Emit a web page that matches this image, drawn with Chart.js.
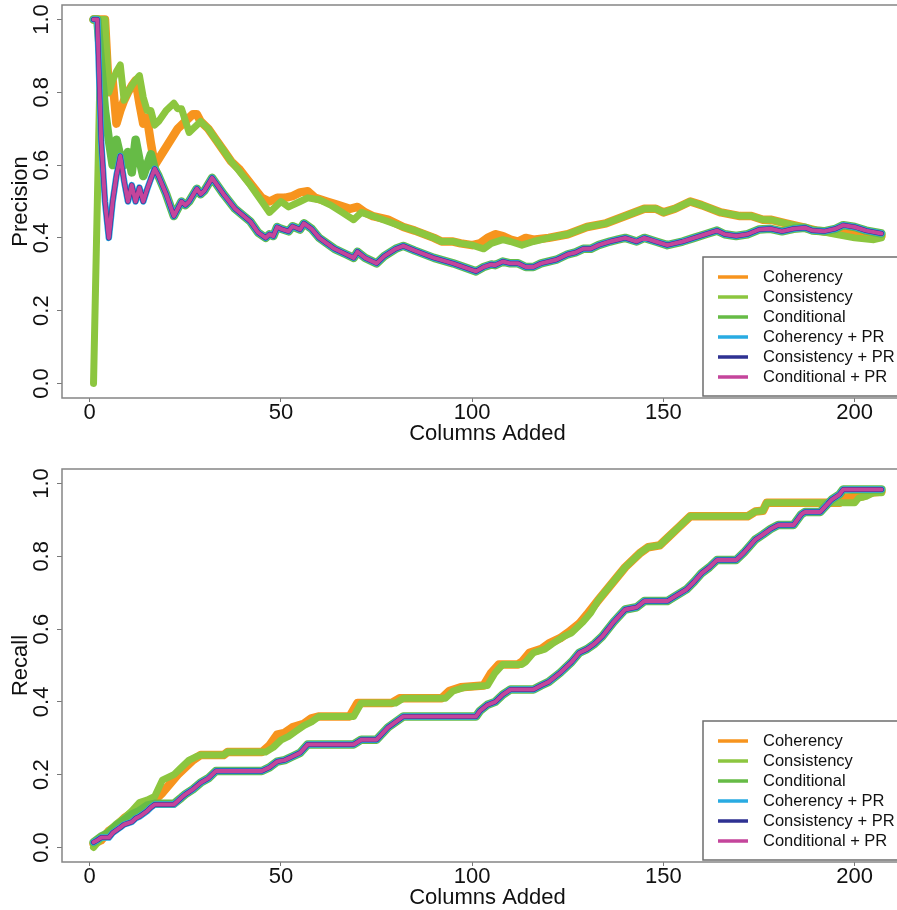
<!DOCTYPE html>
<html>
<head>
<meta charset="utf-8">
<script src="https://cdn.jsdelivr.net/npm/chart.js@4.4.0/dist/chart.umd.min.js"></script>
<style>
  html, body { margin: 0; padding: 0; background: #fff; overflow: hidden; width: 897px; height: 910px; }
  .wrap { position: absolute; left: 0; width: 930px; height: 446px; }
</style>
</head>
<body>
<div class="wrap" style="top:0"><canvas id="precChart" width="930" height="446"></canvas></div>
<div class="wrap" style="top:464px"><canvas id="recallChart" width="930" height="446"></canvas></div>
<script>
// series labels + ticks
const seriesNames = ["Coherency", "Consistency", "Conditional", "Coherency + PR", "Consistency + PR", "Conditional + PR"];
const xTicks = [0, 50, 100, 150, 200];
const yTicks = [0, 0.2, 0.4, 0.6, 0.8, 1.0];

// PRECISION  ([columns added, value])
const precCoherency = [[1,1.0],[4,1.0],[5,0.80],[6,0.833],[7,0.714],[8,0.75],[9,0.778],[10,0.80],[11,0.818],[12,0.833],
  [13,0.77],[14,0.714],[15,0.73],[16,0.66],[17,0.60],[20,0.65],[23,0.70],[25,0.72],[27,0.74],[28,0.74],
  [29,0.72],[31,0.70],[33,0.67],[35,0.64],[37,0.61],[39,0.59],[42,0.55],[45,0.51],[47,0.50],[49,0.51],
  [51,0.51],[53,0.515],[55,0.525],[57,0.528],[59,0.51],[62,0.50],[65,0.49],[68,0.48],[70,0.485],[72,0.47],
  [74,0.46],[78,0.45],[82,0.43],[85,0.42],[90,0.40],[92,0.39],[95,0.39],[97,0.385],[100,0.38],[102,0.385],
  [104,0.40],[106,0.41],[108,0.405],[110,0.395],[112,0.39],[114,0.40],[116,0.395],[120,0.40],[125,0.41],[130,0.43],
  [135,0.44],[140,0.46],[145,0.48],[148,0.48],[150,0.47],[153,0.48],[157,0.50],[160,0.49],[165,0.47],[170,0.46],
  [173,0.46],[176,0.45],[178,0.45],[182,0.44],[186,0.43],[190,0.42],[195,0.415],[200,0.41],[205,0.405],[207,0.405]];

const precConsistency = [[1,0],[2,0.5],[3,1],[4,1],[5,0.8],[6,0.833],[7,0.857],[8,0.875],[9,0.778],[10,0.8],
  [11,0.818],[12,0.833],[13,0.846],[14,0.786],[15,0.75],[16,0.75],[17,0.71],[18,0.72],[20,0.75],[22,0.77],
  [23,0.755],[24,0.755],[26,0.69],[27,0.70],[29,0.72],[31,0.70],[33,0.67],[35,0.64],[37,0.61],[39,0.585],
  [42,0.545],[45,0.50],[47,0.47],[50,0.50],[52,0.485],[55,0.50],[57,0.51],[60,0.505],[63,0.49],[66,0.47],
  [69,0.45],[71,0.47],[74,0.46],[78,0.445],[82,0.43],[85,0.42],[90,0.40],[92,0.39],[95,0.39],[97,0.385],
  [100,0.38],[103,0.37],[105,0.385],[108,0.395],[110,0.39],[113,0.38],[116,0.39],[120,0.40],[125,0.41],[130,0.43],
  [135,0.44],[140,0.46],[145,0.48],[148,0.48],[150,0.47],[153,0.48],[157,0.50],[160,0.49],[165,0.47],[170,0.46],
  [173,0.46],[176,0.45],[178,0.45],[182,0.44],[186,0.43],[190,0.42],[195,0.41],[200,0.40],[205,0.395],[207,0.40]];

const precConditional = [[1,1],[2,1],[4,0.75],[5,0.67],[6,0.60],[7,0.67],[8,0.625],[9,0.60],[10,0.636],[11,0.58],
  [12,0.67],[13,0.615],[14,0.57],[15,0.60],[16,0.63],[17,0.59],[18,0.57],[20,0.52],[22,0.46],[24,0.50],
  [25,0.49],[26,0.50],[28,0.535],[29,0.52],[30,0.53],[32,0.565],[35,0.52],[38,0.48],[42,0.445],[44,0.415],
  [46,0.40],[47,0.41],[48,0.405],[49,0.43],[50,0.425],[52,0.418],[53,0.432],[55,0.423],[56,0.44],[58,0.425],
  [60,0.40],[64,0.37],[67,0.355],[69,0.345],[70,0.362],[72,0.345],[75,0.33],[77,0.35],[80,0.37],[82,0.378],
  [85,0.365],[90,0.345],[95,0.33],[101,0.308],[103,0.32],[105,0.327],[106,0.325],[108,0.335],[110,0.33],[112,0.33],
  [114,0.32],[116,0.32],[118,0.33],[122,0.34],[125,0.355],[127,0.36],[129,0.37],[131,0.37],[133,0.38],[136,0.39],
  [138,0.395],[140,0.40],[143,0.39],[145,0.40],[148,0.39],[151,0.38],[155,0.39],[158,0.40],[161,0.41],[164,0.42],
  [166,0.41],[169,0.405],[172,0.41],[175,0.423],[178,0.425],[181,0.418],[184,0.425],[187,0.428],[189,0.42],[192,0.418],
  [195,0.425],[197,0.435],[200,0.43],[203,0.42],[207,0.412]];

// the three "+ PR" runs sit on top of each other
const precPR = [[1,1],[2,1],[3,0.667],[4,0.5],[5,0.40],[6,0.5],[7,0.571],[8,0.625],[9,0.556],[10,0.50],
  [11,0.545],[12,0.50],[13,0.538],[14,0.50],[15,0.533],[16,0.5625],[17,0.59],[18,0.57],[20,0.52],[22,0.46],
  [24,0.50],[25,0.49],[26,0.50],[28,0.535],[29,0.52],[30,0.53],[32,0.565],[35,0.52],[38,0.48],[42,0.445],
  [44,0.415],[46,0.40],[47,0.41],[48,0.405],[49,0.43],[50,0.425],[52,0.418],[53,0.432],[55,0.423],[56,0.44],
  [58,0.425],[60,0.40],[64,0.37],[67,0.355],[69,0.345],[70,0.362],[72,0.345],[75,0.33],[77,0.35],[80,0.37],
  [82,0.378],[85,0.365],[90,0.345],[95,0.33],[101,0.308],[103,0.32],[105,0.327],[106,0.325],[108,0.335],[110,0.33],
  [112,0.33],[114,0.32],[116,0.32],[118,0.33],[122,0.34],[125,0.355],[127,0.36],[129,0.37],[131,0.37],[133,0.38],
  [136,0.39],[138,0.395],[140,0.40],[143,0.39],[145,0.40],[148,0.39],[151,0.38],[155,0.39],[158,0.40],[161,0.41],
  [164,0.42],[166,0.41],[169,0.405],[172,0.41],[175,0.423],[178,0.425],[181,0.418],[184,0.425],[187,0.428],[189,0.42],
  [192,0.418],[195,0.425],[197,0.435],[200,0.43],[203,0.42],[207,0.412]];

// RECALL
const recCoherency = [[1,0.01],[3,0.02],[5,0.045],[7,0.06],[9,0.08],[11,0.095],[13,0.11],[15,0.12],[17,0.13],[19,0.15],
  [21,0.175],[23,0.20],[25,0.22],[27,0.24],[29,0.254],[35,0.254],[36,0.262],[45,0.262],[47,0.28],[49,0.31],
  [51,0.315],[53,0.33],[56,0.34],[58,0.355],[60,0.36],[68,0.36],[70,0.397],[79,0.397],[81,0.41],[92,0.41],
  [94,0.43],[97,0.44],[103,0.445],[105,0.48],[107,0.503],[112,0.503],[113,0.51],[115,0.535],[118,0.545],[120,0.56],
  [123,0.575],[125,0.59],[128,0.615],[130,0.64],[133,0.68],[140,0.77],[144,0.81],[146,0.825],[149,0.83],[151,0.85],
  [154,0.88],[157,0.91],[172,0.91],[174,0.923],[176,0.925],[177,0.947],[196,0.947],[197,0.96],[202,0.965],[204,0.975],
  [207,0.978]];

const recConsistency = [[1,0],[3,0.025],[5,0.045],[7,0.065],[9,0.08],[11,0.10],[13,0.123],[15,0.13],[17,0.14],[19,0.185],
  [22,0.20],[24,0.22],[26,0.24],[28,0.25],[29,0.254],[35,0.254],[36,0.262],[46,0.262],[48,0.275],[50,0.295],
  [52,0.305],[54,0.32],[56,0.335],[58,0.345],[60,0.36],[69,0.36],[71,0.397],[80,0.397],[82,0.41],[93,0.41],
  [95,0.43],[98,0.44],[104,0.445],[106,0.48],[108,0.503],[113,0.503],[114,0.51],[116,0.535],[119,0.545],[121,0.56],
  [124,0.58],[126,0.59],[129,0.62],[131,0.645],[133,0.68],[140,0.77],[144,0.81],[146,0.825],[149,0.83],[151,0.85],
  [154,0.88],[157,0.91],[172,0.91],[174,0.923],[176,0.925],[177,0.947],[200,0.947],[201,0.96],[203,0.965],[205,0.975],
  [207,0.975]];

const recConditional = [[1,0.014],[3,0.03],[5,0.04],[7,0.06],[9,0.075],[11,0.09],[13,0.10],[15,0.115],[17,0.12],[22,0.12],
  [24,0.137],[25,0.146],[27,0.16],[29,0.178],[31,0.19],[33,0.21],[45,0.21],[47,0.22],[49,0.236],[51,0.24],
  [53,0.25],[55,0.26],[57,0.283],[69,0.283],[71,0.296],[75,0.296],[78,0.33],[82,0.36],[101,0.36],[102,0.375],
  [104,0.392],[106,0.40],[108,0.42],[110,0.434],[116,0.434],[118,0.445],[120,0.455],[123,0.48],[126,0.51],[128,0.535],
  [130,0.545],[132,0.56],[134,0.58],[137,0.62],[140,0.654],[143,0.66],[145,0.677],[151,0.677],[153,0.69],[156,0.709],
  [158,0.73],[160,0.754],[162,0.77],[164,0.79],[169,0.79],[171,0.81],[174,0.846],[176,0.86],[178,0.875],[180,0.886],
  [184,0.886],[186,0.915],[187,0.922],[191,0.922],[193,0.945],[194,0.956],[196,0.97],[197,0.984],[207,0.984]];

const recPR = [[1,0.014],[2,0.02],[3,0.027],[5,0.027],[6,0.04],[8,0.055],[9,0.063],[11,0.07],[12,0.08],[13,0.085],
  [15,0.10],[16,0.11],[17,0.118],[22,0.118],[24,0.137],[25,0.146],[27,0.16],[29,0.178],[31,0.19],[33,0.21],
  [45,0.21],[47,0.22],[49,0.236],[51,0.24],[53,0.25],[55,0.26],[57,0.283],[69,0.283],[71,0.296],[75,0.296],
  [78,0.33],[82,0.36],[101,0.36],[102,0.375],[104,0.392],[106,0.40],[108,0.42],[110,0.434],[116,0.434],[118,0.445],
  [120,0.455],[123,0.48],[126,0.51],[128,0.535],[130,0.545],[132,0.56],[134,0.58],[137,0.62],[140,0.654],[143,0.66],
  [145,0.677],[151,0.677],[153,0.69],[156,0.709],[158,0.73],[160,0.754],[162,0.77],[164,0.79],[169,0.79],[171,0.81],
  [174,0.846],[176,0.86],[178,0.875],[180,0.886],[184,0.886],[186,0.915],[187,0.922],[191,0.922],[193,0.945],[194,0.956],
  [196,0.97],[197,0.984],[207,0.984]];

const colors = ["#F7941E", "#8CC63F", "#66BB46", "#29ABE2", "#2E3192", "#C4459B"];
const widths = [8.5, 7, 8.5, 6.5, 5, 4];

const FONT = "'Liberation Sans', Arial, sans-serif";

// R-style box round the plot region
const frame = {
  id: "frame",
  beforeDatasetsDraw(chart) {
    const { ctx, chartArea: a } = chart;
    ctx.save();
    ctx.strokeStyle = "#858585";
    ctx.lineWidth = 1.5;
    ctx.strokeRect(a.left, a.top, a.right - a.left, a.bottom - a.top);
    ctx.restore();
  }
};

// bottom-right boxed legend
const boxLegend = {
  id: "boxLegend",
  afterDraw(chart) {
    const { ctx, chartArea: a } = chart;
    const w = 208, h = 139;
    const left = a.right - 2 - w, top = a.bottom - 2 - h;
    ctx.save();
    ctx.fillStyle = "#fff";
    ctx.fillRect(left, top, w, h);
    ctx.strokeStyle = "#6e6e6e";
    ctx.lineWidth = 1.5;
    ctx.strokeRect(left, top, w, h);
    ctx.font = "16.5px " + FONT;
    ctx.textBaseline = "middle";
    ctx.fillStyle = "#111";
    chart.data.datasets.forEach((ds, i) => {
      const y = top + 20 + i * 20;
      ctx.strokeStyle = ds.borderColor;
      ctx.lineWidth = 3.5;
      ctx.beginPath();
      ctx.moveTo(left + 15, y);
      ctx.lineTo(left + 45, y);
      ctx.stroke();
      ctx.fillText(ds.label, left + 60, y);
    });
    ctx.restore();
  }
};

function makeChart(id, yTitle, seriesList) {
  const datasets = seriesList.map((pairs, i) => ({
    label: seriesNames[i],
    data: pairs.map(([x, y]) => ({ x, y })),
    borderColor: colors[i],
    backgroundColor: colors[i],
    borderWidth: widths[i],
    pointRadius: 0,
    tension: 0,
    fill: false,
    borderJoinStyle: "round",
    borderCapStyle: "round",
    order: seriesList.length - i
  }));

  return new Chart(document.getElementById(id), {
    type: "line",
    data: { datasets },
    options: {
      responsive: false,
      animation: false,
      layout: { padding: { top: 5, right: 17, bottom: 0, left: 0 } },
      plugins: { legend: { display: false }, tooltip: { enabled: false } },
      scales: {
        x: {
          type: "linear",
          min: -7.24,
          max: 215.24,
          afterBuildTicks: s => { s.ticks = xTicks.map(v => ({ value: v })); },
          afterFit: s => { s.height = 48; s.paddingLeft = 0; s.paddingRight = 0; },
          ticks: {
            autoSkip: false, maxRotation: 0, padding: 0, color: "#111",
            font: { family: FONT, size: 22, lineHeight: 1 },
            callback: v => String(v)
          },
          grid: { drawOnChartArea: false, drawTicks: true, tickLength: 4, color: "#777" },
          border: { display: false },
          title: {
            display: true, text: "Columns Added", color: "#111",
            font: { family: FONT, size: 22, lineHeight: 1 },
            padding: { top: 0, bottom: 1 }
          }
        },
        y: {
          min: -0.04,
          max: 1.04,
          afterBuildTicks: s => { s.ticks = yTicks.map(v => ({ value: v })); },
          afterFit: s => { s.width = 62; s.paddingTop = 0; s.paddingBottom = 0; },
          ticks: {
            autoSkip: false, minRotation: 90, maxRotation: 90, crossAlign: "center",
            padding: 0, color: "#111",
            font: { family: FONT, size: 22, lineHeight: 1 },
            callback: v => v.toFixed(1)
          },
          grid: { drawOnChartArea: false, drawTicks: true, tickLength: 5, color: "#777" },
          border: { display: false },
          title: {
            display: true, text: yTitle, color: "#111",
            font: { family: FONT, size: 22, lineHeight: 1 },
            padding: { top: 10, bottom: 0 }
          }
        }
      }
    },
    plugins: [frame, boxLegend]
  });
}

makeChart("precChart", "Precision", [precCoherency, precConsistency, precConditional, precPR, precPR, precPR]);
makeChart("recallChart", "Recall", [recCoherency, recConsistency, recConditional, recPR, recPR, recPR]);
</script>
</body>
</html>
